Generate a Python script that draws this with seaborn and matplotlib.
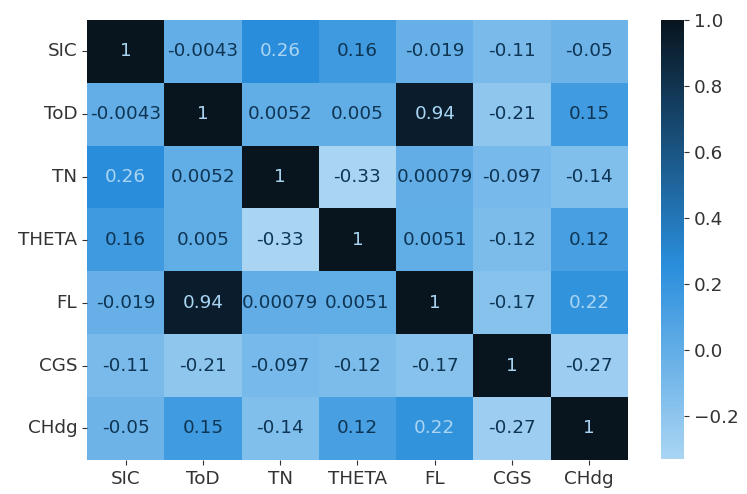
import numpy as np
import pandas as pd
import matplotlib
matplotlib.use("Agg")
import matplotlib.pyplot as plt
import seaborn as sns
from matplotlib.colors import LinearSegmentedColormap

labels = ["SIC", "ToD", "TN", "THETA", "FL", "CGS", "CHdg"]

sic = [1, -0.0043, 0.26, 0.16, -0.019, -0.11, -0.05]
tod = [-0.0043, 1, 0.0052, 0.005, 0.94, -0.21, 0.15]
tn = [0.26, 0.0052, 1, -0.33, 0.00079, -0.097, -0.14]
theta = [0.16, 0.005, -0.33, 1, 0.0051, -0.12, 0.12]
fl = [-0.019, 0.94, 0.00079, 0.0051, 1, -0.17, 0.22]
cgs = [-0.11, -0.21, -0.097, -0.12, -0.17, 1, -0.27]
chdg = [-0.05, 0.15, -0.14, 0.12, 0.22, -0.27, 1]

corr = pd.DataFrame([sic, tod, tn, theta, fl, cgs, chdg], index=labels, columns=labels)

# light blue -> saturated blue -> near black
cmap = LinearSegmentedColormap.from_list(
    "bluedark", [(0.0, "#a9d5f3"), (0.44, "#2a8edc"), (1.0, "#08141e")]
)

fig = plt.figure(figsize=(7.47, 4.94), dpi=100)
ax = fig.add_axes([0.1165, 0.069, 0.724, 0.891])
cax = fig.add_axes([0.885, 0.071, 0.031, 0.889])

sns.heatmap(corr, annot=True, cmap=cmap, vmin=-0.33, vmax=1.0, ax=ax, cbar_ax=cax,
            annot_kws={"fontsize": 13.2})

# recolour annotations: light text only on the darker cells
vals = corr.values.flatten()
for txt, v in zip(ax.texts, vals):
    txt.set_color("#a9d5f3" if v > 0.2 else "#0e3554")

ax.tick_params(labelsize=13.2, colors="#333333", labelcolor="#333333")
ax.set_yticklabels(labels, rotation=0)
ax.set_xticklabels(labels, rotation=0)
cax.tick_params(labelsize=13.2, colors="#333333", labelcolor="#333333")

plt.savefig("out.png", dpi=100)
plt.close()
